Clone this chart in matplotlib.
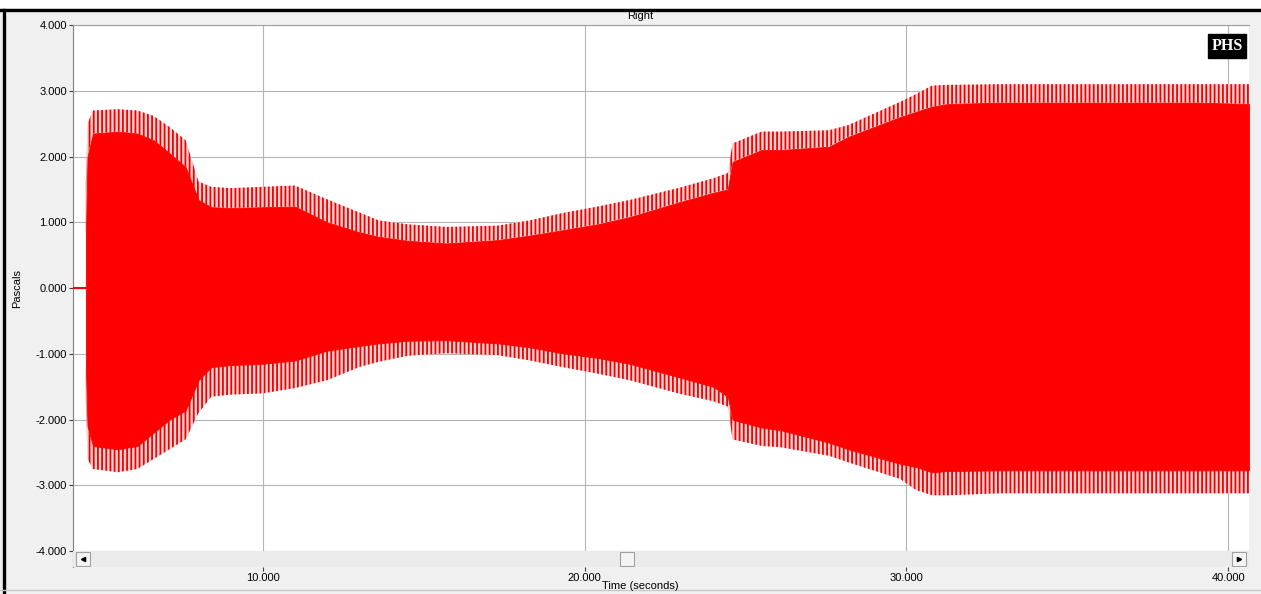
import matplotlib
matplotlib.use("Agg")
import matplotlib.pyplot as plt
import matplotlib.patches as mpatches
from matplotlib.lines import Line2D
import numpy as np

plt.rcParams['font.family'] = ['Liberation Sans', 'DejaVu Sans']
plt.rcParams['hatch.linewidth'] = 1.3

time_s = [4.50, 4.55, 4.72, 5.5, 6.1, 6.6, 7.1, 7.6, 8.0, 8.4, 9.0, 10.0, 11.0,
          12.0, 13.0, 13.6, 14.5, 15.7, 17.3, 18.3, 19.3, 20.4, 21.4, 22.9, 24.0,
          24.45, 24.6, 25.5, 26.1, 27.6, 28.2, 29.8, 30.3, 30.8, 31.3, 32.9, 35.0,
          37.0, 39.0, 40.65]
core_top = [0.8, 2.0, 2.35, 2.38, 2.35, 2.25, 2.05, 1.84, 1.34, 1.23, 1.22, 1.23, 1.24,
            1.0, 0.85, 0.78, 0.72, 0.68, 0.73, 0.8, 0.88, 0.97, 1.08, 1.3, 1.45,
            1.5, 1.92, 2.1, 2.1, 2.15, 2.3, 2.6, 2.68, 2.76, 2.8, 2.82, 2.82,
            2.82, 2.82, 2.8]
spike_top = [1.6, 2.5, 2.7, 2.72, 2.7, 2.62, 2.45, 2.25, 1.62, 1.54, 1.52, 1.54, 1.56,
             1.35, 1.15, 1.03, 0.97, 0.93, 0.95, 1.03, 1.14, 1.24, 1.34, 1.52, 1.67,
             1.75, 2.2, 2.38, 2.38, 2.4, 2.48, 2.83, 2.95, 3.08, 3.09, 3.1, 3.1,
             3.1, 3.1, 3.1]
core_bot = [-1.2, -2.1, -2.4, -2.45, -2.4, -2.2, -2.0, -1.86, -1.4, -1.2, -1.17, -1.15, -1.1,
            -0.95, -0.88, -0.84, -0.8, -0.79, -0.84, -0.9, -0.99, -1.06, -1.15, -1.35, -1.5,
            -1.65, -2.0, -2.12, -2.16, -2.35, -2.45, -2.67, -2.72, -2.8, -2.78, -2.77, -2.77,
            -2.77, -2.77, -2.77]
spike_bot = [-1.7, -2.6, -2.75, -2.8, -2.75, -2.6, -2.45, -2.3, -1.9, -1.65, -1.62, -1.6, -1.52,
             -1.4, -1.2, -1.12, -1.03, -0.99, -1.02, -1.1, -1.2, -1.3, -1.4, -1.6, -1.72,
             -1.8, -2.3, -2.4, -2.42, -2.55, -2.65, -2.9, -3.07, -3.15, -3.15, -3.12, -3.12,
             -3.12, -3.12, -3.12]
lead_t = [4.10, 4.50]
lead_p = [0.0, 0.0]

xticks = [10, 20, 30, 40]
yticks = [-4, -3, -2, -1, 0, 1, 2, 3, 4]

fig = plt.figure(figsize=(12.61, 5.94), dpi=100)
fig.patch.set_facecolor('#f0f0f0')

# window frame
fig.add_artist(mpatches.Rectangle((0, 1 - 8 / 594), 1, 8 / 594, transform=fig.transFigure,
                                  facecolor='white', edgecolor='none'))
fig.add_artist(Line2D([0, 1], [1 - 9.5 / 594] * 2, transform=fig.transFigure, color='black', lw=2.4))
fig.add_artist(Line2D([3.5 / 1261] * 2, [0, 1 - 9.5 / 594], transform=fig.transFigure, color='black', lw=2.4))
fig.add_artist(Line2D([0, 1], [4 / 594] * 2, transform=fig.transFigure, color='#c8c8c8', lw=1))

ax = fig.add_axes([73 / 1261, 1 - 567 / 594, 1176 / 1261, 542 / 594])
ax.set_xlim(4.10, 40.65)
ax.set_ylim(-4.24, 4.0)
ax.set_facecolor('white')

ax.set_xticks(xticks)
ax.set_yticks(yticks)
ax.xaxis.set_major_formatter(matplotlib.ticker.FormatStrFormatter('%.3f'))
ax.yaxis.set_major_formatter(matplotlib.ticker.FormatStrFormatter('%.3f'))
ax.tick_params(axis='both', labelsize=8, length=3, width=0.8, color='#404040', pad=1.5)
ax.grid(True, color='#b4b4b4', lw=0.8)
ax.set_axisbelow(True)
for s in ['right', 'bottom']:
    ax.spines[s].set_visible(False)
ax.spines['left'].set_color('#808080')
ax.spines['top'].set_color('#a0a0a0')

# waveform: solid core plus comb of peaks
ax.fill_between(time_s, core_top, spike_top, facecolor='#f6d4d4', edgecolor='#f00000',
                hatch='||||', linewidth=0, zorder=2)
ax.fill_between(time_s, spike_bot, core_bot, facecolor='#f6d4d4', edgecolor='#f00000',
                hatch='||||', linewidth=0, zorder=2)
ax.fill_between(time_s, core_bot, core_top, facecolor='red', edgecolor='red', linewidth=0.6, zorder=3)
ax.plot(lead_t, lead_p, color='red', lw=1.5, zorder=3)

# scrollbar along the bottom
sb_h = 16 / 542
ax.add_patch(mpatches.Rectangle((0, 0), 1, sb_h, transform=ax.transAxes,
                                facecolor='#ebebeb', edgecolor='none', zorder=4))
for x0 in [3 / 1176, 1159 / 1176, 547 / 1176]:
    ax.add_patch(mpatches.Rectangle((x0, 1 / 542), 14 / 1176, 14 / 542, transform=ax.transAxes,
                                    facecolor='#f4f4f4', edgecolor='#a0a0a0', lw=0.8, zorder=5))
ax.plot([10 / 1176], [8 / 542], marker='<', ms=3, color='black', transform=ax.transAxes, zorder=6)
ax.plot([1166 / 1176], [8 / 542], marker='>', ms=3, color='black', transform=ax.transAxes, zorder=6)

# logo
ax.text(0.9815, 0.976, 'PHS', transform=ax.transAxes, ha='center', va='top',
        color='white', fontsize=11.5, fontweight='bold', family='Liberation Serif',
        bbox=dict(facecolor='black', edgecolor='black', boxstyle='square,pad=0.22'), zorder=7)

fig.text(640 / 1261, 1 - 16 / 594, 'Right', ha='center', va='center', fontsize=8)
fig.text(640 / 1261, 1 - 586 / 594, 'Time (seconds)', ha='center', va='center', fontsize=8)
fig.text(17 / 1261, 1 - 288 / 594, 'Pascals', ha='center', va='center', fontsize=8, rotation=90)

fig.savefig('out.png', dpi=100, facecolor=fig.get_facecolor())
